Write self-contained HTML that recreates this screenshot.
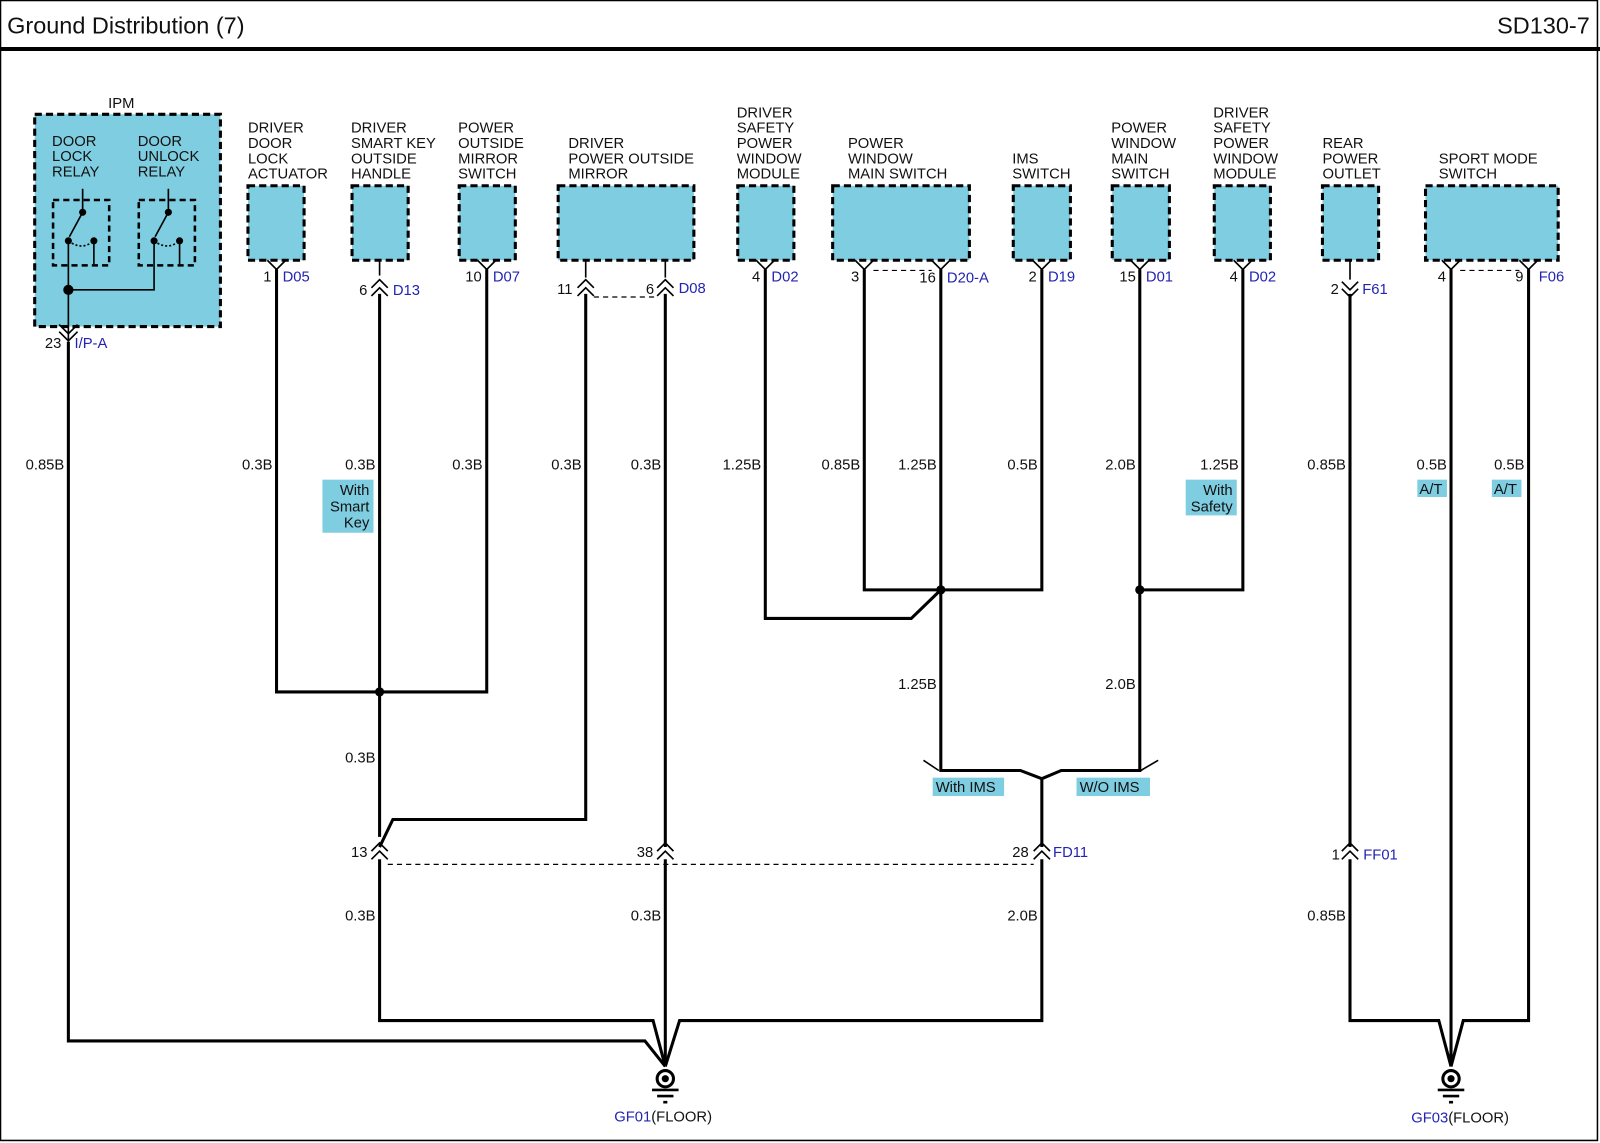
<!DOCTYPE html>
<html><head><meta charset="utf-8"><style>
html,body{margin:0;padding:0;background:#fff;width:1600px;height:1143px;overflow:hidden}
svg{display:block}
text{font-family:"Liberation Sans",Arial,sans-serif;font-size:14.5px;fill:#111}
.b{fill:#2323b4}
.w{stroke:#000;stroke-width:3;fill:none}
.t{stroke:#000;stroke-width:1.6;fill:none}
.d{stroke:#000;stroke-width:1.2;fill:none;stroke-dasharray:5,4}
.box{fill:#7ecde0;stroke:#000;stroke-width:3;stroke-dasharray:7,4}
.lab{fill:#7ecde0}
</style></head><body>
<svg width="1600" height="1143" viewBox="0 0 1568 1120" preserveAspectRatio="none" xmlns="http://www.w3.org/2000/svg">
<rect x="0" y="0" width="1568" height="1120" fill="#fff"/>
<rect x="0.5" y="0.5" width="1565" height="1117" fill="none" stroke="#000" stroke-width="1.5"/>
<line x1="0" y1="48" x2="1568" y2="48" stroke="#000" stroke-width="4"/>
<text x="7" y="33" style="font-size:23px">Ground Distribution (7)</text>
<text x="1558" y="33" text-anchor="end" style="font-size:23px">SD130-7</text>

<!-- IPM -->
<text x="106" y="106">IPM</text>
<rect class="box" x="34" y="112" width="182" height="208"/>
<text x="51" y="143">DOOR</text><text x="51" y="158">LOCK</text><text x="51" y="173">RELAY</text>
<text x="135" y="143">DOOR</text><text x="135" y="158">UNLOCK</text><text x="135" y="173">RELAY</text>
<rect x="52" y="196" width="55" height="64" fill="none" stroke="#000" stroke-width="2.5" stroke-dasharray="6,4"/>
<rect x="136" y="196" width="55" height="64" fill="none" stroke="#000" stroke-width="2.5" stroke-dasharray="6,4"/>
<g class="t">
<path d="M81 185 V208 L68 232"/><path d="M92 238 V259"/><path d="M67 236 Q80 246 92 236" stroke-dasharray="2,2"/>
<path d="M165 185 V208 L152 232"/><path d="M176 238 V259"/><path d="M151 236 Q164 246 176 236" stroke-dasharray="2,2"/>
<path d="M67 236 V335 M67 284 H151 V236"/>
<path d="M58 318 L67 327 L76 318"/><path d="M58 325 L67 334 L76 325"/>
</g>
<g fill="#000"><circle cx="81" cy="208" r="3.5"/><circle cx="67" cy="236" r="3.5"/><circle cx="92" cy="236" r="3.5"/>
<circle cx="165" cy="208" r="3.5"/><circle cx="151" cy="236" r="3.5"/><circle cx="176" cy="236" r="3.5"/>
<circle cx="67" cy="284" r="5"/></g>
<text x="44" y="341">23</text><text x="73" y="341" class="b">I/P-A</text>

<!-- component labels -->
<text x="243" y="130">DRIVER</text><text x="243" y="145">DOOR</text><text x="243" y="160">LOCK</text><text x="243" y="175">ACTUATOR</text>
<text x="344" y="130">DRIVER</text><text x="344" y="145">SMART KEY</text><text x="344" y="160">OUTSIDE</text><text x="344" y="175">HANDLE</text>
<text x="449" y="130">POWER</text><text x="449" y="145">OUTSIDE</text><text x="449" y="160">MIRROR</text><text x="449" y="175">SWITCH</text>
<text x="557" y="145">DRIVER</text><text x="557" y="160">POWER OUTSIDE</text><text x="557" y="175">MIRROR</text>
<text x="722" y="115">DRIVER</text><text x="722" y="130">SAFETY</text><text x="722" y="145">POWER</text><text x="722" y="160">WINDOW</text><text x="722" y="175">MODULE</text>
<text x="831" y="145">POWER</text><text x="831" y="160">WINDOW</text><text x="831" y="175">MAIN SWITCH</text>
<text x="992" y="160">IMS</text><text x="992" y="175">SWITCH</text>
<text x="1089" y="130">POWER</text><text x="1089" y="145">WINDOW</text><text x="1089" y="160">MAIN</text><text x="1089" y="175">SWITCH</text>
<text x="1189" y="115">DRIVER</text><text x="1189" y="130">SAFETY</text><text x="1189" y="145">POWER</text><text x="1189" y="160">WINDOW</text><text x="1189" y="175">MODULE</text>
<text x="1296" y="145">REAR</text><text x="1296" y="160">POWER</text><text x="1296" y="175">OUTLET</text>
<text x="1410" y="160">SPORT MODE</text><text x="1410" y="175">SWITCH</text>

<!-- boxes -->
<rect class="box" x="243" y="182" width="55" height="73"/>
<rect class="box" x="345" y="182" width="55" height="73"/>
<rect class="box" x="450" y="182" width="55" height="73"/>
<rect class="box" x="547" y="182" width="133" height="73"/>
<rect class="box" x="723" y="182" width="55" height="73"/>
<rect class="box" x="816" y="182" width="134" height="73"/>
<rect class="box" x="993" y="182" width="56" height="73"/>
<rect class="box" x="1090" y="182" width="56" height="73"/>
<rect class="box" x="1190" y="182" width="55" height="73"/>
<rect class="box" x="1296" y="182" width="55" height="73"/>
<rect class="box" x="1397" y="182" width="130" height="73"/>

<!-- Y connectors -->
<g class="t">
<path d="M262 255 L271 264 L280 255"/>
<path d="M468 255 L477 264 L486 255"/>
<path d="M741 255 L750 264 L759 255"/>
<path d="M838 255 L847 264 L856 255"/><path d="M913 255 L922 264 L931 255"/>
<path d="M1012 255 L1021 264 L1030 255"/>
<path d="M1108 255 L1117 264 L1126 255"/>
<path d="M1209 255 L1218 264 L1227 255"/>
<path d="M1413 255 L1422 264 L1431 255"/><path d="M1489 255 L1498 264 L1507 255"/>
<path d="M372 255 V270"/><path d="M574 255 V272"/><path d="M652 255 V272"/><path d="M1323 255 V274"/>
</g>
<path class="d" d="M856 265 H913"/><path class="d" d="M1431 265 H1489"/>
<path class="d" d="M582 291 H644"/>
<!-- double chevrons -->
<g class="t" stroke-width="1.8">
<path d="M364 282 L372 274 L380 282"/><path d="M364 290 L372 282 L380 290"/>
<path d="M566 282 L574 274 L582 282"/><path d="M566 290 L574 282 L582 290"/>
<path d="M644 282 L652 274 L660 282"/><path d="M644 290 L652 282 L660 290"/>
<path d="M1315 276 L1323 284 L1331 276"/><path d="M1315 283 L1323 291 L1331 283"/>
<path d="M364 834 L372 826 L380 834"/><path d="M364 842 L372 834 L380 842"/>
<path d="M644 834 L652 826 L660 834"/><path d="M644 842 L652 834 L660 842"/>
<path d="M1013 834 L1021 826 L1029 834"/><path d="M1013 842 L1021 834 L1029 842"/>
<path d="M1315 834 L1323 826 L1331 834"/><path d="M1315 842 L1323 834 L1331 842"/>
</g>
<path class="d" d="M380 847 H1013"/>

<!-- pin labels -->
<text x="258" y="276">1</text><text x="277" y="276" class="b">D05</text>
<text x="352" y="289">6</text><text x="385" y="289" class="b">D13</text>
<text x="456" y="276">10</text><text x="483" y="276" class="b">D07</text>
<text x="546" y="288">11</text><text x="633" y="288">6</text><text x="665" y="287" class="b">D08</text>
<text x="737" y="276">4</text><text x="756" y="276" class="b">D02</text>
<text x="834" y="276">3</text><text x="901" y="277">16</text><text x="928" y="277" class="b">D20-A</text>
<text x="1008" y="276">2</text><text x="1027" y="276" class="b">D19</text>
<text x="1097" y="276">15</text><text x="1123" y="276" class="b">D01</text>
<text x="1205" y="276">4</text><text x="1224" y="276" class="b">D02</text>
<text x="1304" y="288">2</text><text x="1335" y="288" class="b">F61</text>
<text x="1409" y="276">4</text><text x="1485" y="276">9</text><text x="1508" y="276" class="b">F06</text>
<text x="344" y="840">13</text><text x="624" y="840">38</text><text x="992" y="840">28</text><text x="1032" y="840" class="b">FD11</text>
<text x="1305" y="842">1</text><text x="1336" y="842" class="b">FF01</text>

<!-- wires -->
<g class="w">
<path d="M67 335 V1020 H632 L652 1045"/>
<path d="M271 264 V678 H477 V264"/>
<path d="M372 288 V820 M372 842 V1000 H640 L652 1045"/>
<path d="M372 830 L385 803 H574 V288"/>
<path d="M652 288 V830 M652 842 V1045"/>
<path d="M750 264 V606 H893 L922 578"/>
<path d="M847 264 V578 H1021 V264"/>
<path d="M922 264 V755 H1000 L1021 763 L1040 755 H1117 V264"/>
<path d="M1117 578 H1218 V264"/>
<path d="M1021 763 V830 M1021 842 V1000 H666 L652 1045"/>
<path d="M1323 288 V830 M1323 842 V1000 H1410 L1422 1045"/>
<path d="M1422 264 V1045"/>
<path d="M1498 264 V1000 H1434 L1422 1045"/>
</g>
<g class="t"><path d="M905 745 L920 755"/><path d="M1135 745 L1118 755"/></g>
<g fill="#000"><circle cx="372" cy="678" r="4.5"/><circle cx="922" cy="578" r="4.5"/><circle cx="1117" cy="578" r="4.5"/></g>

<!-- grounds -->
<g>
<circle cx="652" cy="1057" r="8" fill="#fff" stroke="#000" stroke-width="3"/><circle cx="652" cy="1057" r="3.5" fill="#000"/>
<path d="M639 1068 H665 M644 1074 H660 M650 1080 H654" stroke="#000" stroke-width="2.5"/>
<circle cx="1422" cy="1057" r="8" fill="#fff" stroke="#000" stroke-width="3"/><circle cx="1422" cy="1057" r="3.5" fill="#000"/>
<path d="M1409 1068 H1435 M1414 1074 H1430 M1420 1080 H1424" stroke="#000" stroke-width="2.5"/>
</g>
<text x="602" y="1099"><tspan class="b">GF01</tspan>(FLOOR)</text>
<text x="1383" y="1100"><tspan class="b">GF03</tspan>(FLOOR)</text>

<!-- wire labels -->
<g text-anchor="end">
<text x="63" y="460">0.85B</text><text x="267" y="460">0.3B</text><text x="368" y="460">0.3B</text><text x="473" y="460">0.3B</text>
<text x="570" y="460">0.3B</text><text x="648" y="460">0.3B</text><text x="746" y="460">1.25B</text><text x="843" y="460">0.85B</text>
<text x="918" y="460">1.25B</text><text x="1017" y="460">0.5B</text><text x="1113" y="460">2.0B</text><text x="1214" y="460">1.25B</text>
<text x="1319" y="460">0.85B</text><text x="1418" y="460">0.5B</text><text x="1494" y="460">0.5B</text>
<text x="918" y="675">1.25B</text><text x="1113" y="675">2.0B</text>
<text x="368" y="747">0.3B</text>
<text x="368" y="902">0.3B</text><text x="648" y="902">0.3B</text><text x="1017" y="902">2.0B</text><text x="1319" y="902">0.85B</text>
</g>
<!-- option labels -->
<rect class="lab" x="316" y="470" width="50" height="52"/>
<text x="362" y="485" text-anchor="end">With</text><text x="362" y="501" text-anchor="end">Smart</text><text x="362" y="517" text-anchor="end">Key</text>
<rect class="lab" x="1162" y="470" width="50" height="35"/>
<text x="1208" y="485" text-anchor="end">With</text><text x="1208" y="501" text-anchor="end">Safety</text>
<rect class="lab" x="1389" y="470" width="29" height="17"/><text x="1391" y="484">A/T</text>
<rect class="lab" x="1462" y="470" width="29" height="17"/><text x="1464" y="484">A/T</text>
<rect class="lab" x="914" y="762" width="70" height="18"/><text x="917" y="776">With IMS</text>
<rect class="lab" x="1055" y="762" width="72" height="18"/><text x="1058" y="776">W/O IMS</text>
</svg>
</body></html>
